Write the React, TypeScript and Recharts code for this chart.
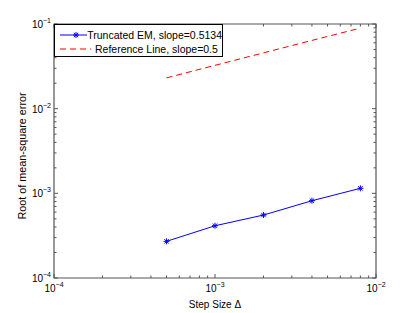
import { LineChart, Line, XAxis, YAxis, Legend, ReferenceArea } from "recharts";

const stepSizes = [0.0005, 0.001, 0.002, 0.004, 0.008];
const emErrors = [0.000271, 0.000414, 0.000554, 0.000818, 0.001146];
const refLine = [0.0231, 0.0325, 0.0456, 0.064, 0.0895];

const xTicks = [
  0.0001, 0.0002, 0.0003, 0.0004, 0.0005, 0.0006, 0.0007, 0.0008, 0.0009,
  0.001, 0.002, 0.003, 0.004, 0.005, 0.006, 0.007, 0.008, 0.009, 0.01,
];
const yTicks = [
  0.0001, 0.0002, 0.0003, 0.0004, 0.0005, 0.0006, 0.0007, 0.0008, 0.0009,
  0.001, 0.002, 0.003, 0.004, 0.005, 0.006, 0.007, 0.008, 0.009,
  0.01, 0.02, 0.03, 0.04, 0.05, 0.06, 0.07, 0.08, 0.09, 0.1,
];

const seriesKeys = ["em", "ref"];
const seriesNames = ["Truncated EM, slope=0.5134", "Reference Line, slope=0.5"];

const chartData = stepSizes.map((s, i) => ({ step: s, em: emErrors[i], ref: refLine[i] }));

const W = 415;
const H = 313;
const TOP = 24;
const LEFT = 54;
const RIGHT = 376;
const BOTTOM = 278;
const AXIS = "#555";
const FONT = "'Liberation Sans', Arial, Helvetica, sans-serif";

const decade = (v: number) => {
  const e = Math.log10(v);
  return Math.abs(e - Math.round(e)) < 1e-6 ? Math.round(e) : null;
};

const XTick = (props: any) => {
  const { x, payload } = props;
  const e = decade(payload.value);
  const len = e !== null ? 4 : 2.5;
  return (
    <g>
      <line x1={x} x2={x} y1={BOTTOM} y2={BOTTOM - len} stroke={AXIS} />
      <line x1={x} x2={x} y1={TOP} y2={TOP + len} stroke={AXIS} />
      {e !== null && (
        <text x={x} y={BOTTOM + 14} textAnchor="middle" fontSize={10} fill="#000" fontFamily={FONT}>
          10<tspan dy={-5} fontSize={7}>{"\u2212" + Math.abs(e)}</tspan>
        </text>
      )}
    </g>
  );
};

const YTick = (props: any) => {
  const { y, payload } = props;
  const e = decade(payload.value);
  const len = e !== null ? 4 : 2.5;
  return (
    <g>
      <line x1={LEFT} x2={LEFT + len} y1={y} y2={y} stroke={AXIS} />
      <line x1={RIGHT} x2={RIGHT - len} y1={y} y2={y} stroke={AXIS} />
      {e !== null && (
        <text x={51} y={y + 4} textAnchor="end" fontSize={10} fill="#000" fontFamily={FONT}>
          10<tspan dy={-5} fontSize={7}>{"\u2212" + Math.abs(e)}</tspan>
        </text>
      )}
    </g>
  );
};

const Asterisk = (props: any) => {
  const { cx, cy } = props;
  if (cx == null || cy == null) return null;
  const r = 3;
  const d = 2.2;
  return (
    <g stroke="#0000ff" strokeWidth={1}>
      <line x1={cx - r} x2={cx + r} y1={cy} y2={cy} />
      <line x1={cx} x2={cx} y1={cy - r} y2={cy + r} />
      <line x1={cx - d} x2={cx + d} y1={cy - d} y2={cy + d} />
      <line x1={cx - d} x2={cx + d} y1={cy + d} y2={cy - d} />
    </g>
  );
};

const LegendBox = (props: any) => {
  const items = [...(props.payload || [])].sort(
    (a: any, b: any) => seriesKeys.indexOf(a.dataKey) - seriesKeys.indexOf(b.dataKey)
  );
  return (
    <div
      style={{
        width: 169,
        height: 33,
        boxSizing: "border-box",
        border: "1px solid #000",
        background: "#fff",
        paddingTop: 3,
        fontFamily: FONT,
        fontSize: 10.5,
        textAlign: "left",
      }}
    >
      {items.map((it: any) => {
        const dashed = it.dataKey === "ref";
        return (
          <div key={it.dataKey} style={{ display: "flex", alignItems: "center", height: 14 }}>
            <svg width={40} height={14} style={{ display: "block" }}>
              <line
                x1={5}
                x2={36}
                y1={7}
                y2={7}
                stroke={dashed ? "#ff0000" : "#0000ff"}
                strokeDasharray={dashed ? "6 4" : undefined}
              />
              {!dashed && <Asterisk cx={21} cy={7} />}
            </svg>
            <span style={{ color: "#000", whiteSpace: "nowrap" }}>{it.value}</span>
          </div>
        );
      })}
    </div>
  );
};

export default function App() {
  return (
    <div style={{ position: "absolute", left: 0, top: 0, background: "#fff" }}>
      <LineChart
        width={W}
        height={H}
        data={chartData}
        margin={{ top: TOP, right: W - RIGHT, left: 0, bottom: 0 }}
      >
        <XAxis
          dataKey="step"
          type="number"
          scale="log"
          domain={[0.0001, 0.01]}
          allowDataOverflow
          ticks={xTicks}
          interval={0}
          tick={<XTick />}
          tickLine={false}
          tickSize={0}
          tickMargin={0}
          axisLine={false}
          height={H - BOTTOM}
          label={{
            content: () => (
              <text x={(LEFT + RIGHT) / 2} y={308} textAnchor="middle" fontSize={10} fontFamily={FONT} fill="#000">
                Step Size Δ
              </text>
            ),
          }}
        />
        <YAxis
          type="number"
          scale="log"
          domain={[0.0001, 0.1]}
          allowDataOverflow
          ticks={yTicks}
          interval={0}
          tick={<YTick />}
          tickLine={false}
          tickSize={0}
          tickMargin={0}
          axisLine={false}
          width={LEFT}
          label={{
            content: () => (
              <text
                x={22}
                y={156}
                textAnchor="middle"
                dominantBaseline="central"
                fontSize={10.8}
                fontFamily={FONT}
                fill="#000"
                transform="rotate(-90 22 156)"
              >
                Root of mean-square error
              </text>
            ),
          }}
        />
        <ReferenceArea
          x1={0.0001}
          x2={0.01}
          y1={0.0001}
          y2={0.1}
          fill="none"
          stroke={AXIS}
          strokeWidth={1.2}
          ifOverflow="visible"
        />
        <Line
          dataKey="em"
          name={seriesNames[0]}
          stroke="#0000ff"
          strokeWidth={1}
          dot={<Asterisk />}
          isAnimationActive={false}
        />
        <Line
          dataKey="ref"
          name={seriesNames[1]}
          stroke="#ff0000"
          strokeWidth={1}
          strokeDasharray="6 4"
          dot={false}
          isAnimationActive={false}
        />
        <Legend
          layout="horizontal"
          align="center"
          verticalAlign="middle"
          content={<LegendBox />}
          wrapperStyle={{ left: LEFT, top: TOP, width: 169, height: 33 }}
        />
      </LineChart>
    </div>
  );
}
